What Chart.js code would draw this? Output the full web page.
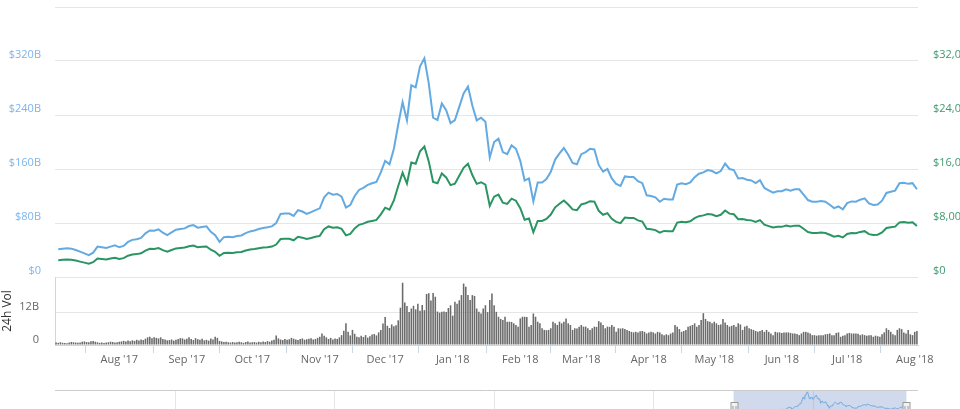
<!DOCTYPE html>
<html>
<head>
<meta charset="utf-8">
<script src="https://cdn.jsdelivr.net/npm/chart.js@4.4.1/dist/chart.umd.min.js"></script>
<style>
html, body { margin: 0; padding: 0; background: #fff; overflow: hidden; width: 960px; height: 409px; }
canvas { position: absolute; left: 0; }
#main { top: 0; }
#vol { top: 277px; }
#nav { top: 388px; }
</style>
</head>
<body>
<canvas id="main" width="960" height="280"></canvas>
<canvas id="vol" width="960" height="95"></canvas>
<canvas id="nav" width="960" height="40"></canvas>
<script>
var DAY = 86400000;
var origin = Date.UTC(2017, 6, 1);
function dayOf(y, m, d) { return Math.round((Date.UTC(y, m, d) - origin) / DAY); }

// market cap (USD bn), one point every 2nd day from 4 Jul 2017
var capStart = dayOf(2017, 6, 4);
var marketCap = [
  41, 42, 42.5, 42, 40, 37.5, 35, 32.5, 36, 45, 44, 43, 45, 47,
  44, 46, 52, 55, 56, 58, 64.7, 69, 68.6, 70.6, 65.6, 62, 66, 70, 71, 72,
  75.5, 77, 73, 74, 75, 67, 62, 52, 59, 59.5, 59, 60.7, 61.5, 65, 67.5,
  69, 71, 72.5, 73.6, 75, 80, 93.5, 94, 94, 90.5, 99, 97, 93.5, 96, 99,
  101.7, 118, 125, 122, 123, 119, 103, 106.6, 120, 129, 132, 136.5, 138.8, 141, 155,
  172, 167, 190, 226, 259, 232, 284, 281, 312, 324, 287, 236, 232.5, 257, 247, 228,
  232.5, 252, 272, 282, 254, 232, 236, 230, 177, 200, 205, 185, 182, 195, 190,
  172, 143, 146, 112, 140, 140, 145, 156, 174, 183, 191, 181, 169, 167,
  182, 185, 190, 189, 166, 156, 160, 146, 138, 135, 149, 148, 148, 142, 139, 121,
  120, 118, 111.5, 116, 115, 115, 137, 139, 137.5, 140, 148, 153, 155, 158.5, 157,
  153.6, 157, 168, 160, 158.5, 146, 146.5, 144, 143, 139, 143.5, 132, 128.5, 125, 127,
  127, 130, 128, 130, 130, 122, 114, 111.5, 111.5, 112.5, 111.5, 107, 102, 104.5, 100.2,
  109.5, 112, 111.5, 114.5, 116.5, 109, 106.8, 107.5, 113, 124.5, 126.3, 128, 138.8, 139.5, 138, 139,
  130
];

// price (USD), same days
var priceUsd = [
  2490, 2550, 2580, 2550, 2430, 2280, 2130, 1980, 2190, 2740, 2680, 2610, 2740, 2860,
  2670, 2790, 3150, 3330, 3390, 3510, 3920, 4180, 4160, 4280, 3980, 3760, 4000, 4240, 4300, 4360,
  4560, 4650, 4410, 4470, 4530, 4040, 3740, 3140, 3560, 3590, 3560, 3660, 3710, 3920, 4070,
  4150, 4270, 4360, 4420, 4510, 4810, 5620, 5650, 5650, 5440, 5950, 5830, 5620, 5770, 5950,
  6090, 7070, 7490, 7310, 7370, 7130, 6170, 6390, 7190, 7730, 7910, 8180, 8310, 8450, 9280,
  10270, 9970, 11340, 13490, 15460, 13850, 16950, 16780, 18630, 19340, 17130, 14090, 13880, 15340, 14750, 13610,
  13830, 14990, 16180, 16780, 15110, 13800, 14040, 13690, 10530, 11900, 12200, 11010, 10830, 11600, 11310,
  10200, 8480, 8660, 6640, 8300, 8300, 8600, 9250, 10320, 10850, 11330, 10730, 10020, 9900,
  10760, 10930, 11230, 11170, 9810, 9220, 9460, 8630, 8160, 7980, 8810, 8750, 8750, 8390, 8210, 7150,
  7070, 6950, 6570, 6830, 6770, 6770, 8070, 8190, 8100, 8250, 8720, 9010, 9130, 9340, 9250,
  9020, 9220, 9860, 9390, 9300, 8570, 8600, 8450, 8390, 8160, 8420, 7750, 7540, 7340, 7450,
  7430, 7610, 7490, 7610, 7610, 7140, 6670, 6520, 6520, 6580, 6520, 6260, 5970, 6110, 5860,
  6380, 6530, 6500, 6680, 6790, 6350, 6230, 6270, 6590, 7260, 7360, 7460, 8090, 8130, 8050, 8100,
  7570
];

// 24h volume (USD bn), daily from 3 Jul 2017
var volStart = dayOf(2017, 6, 3);
var volume24h = [
  0.9,0.8,1.0,0.8,0.7,0.6,0.9,1.1,1.0,0.9,0.8,0.9,1.2,1.3,1.1,1.0,1.4,1.5,1.2,1.0,0.8,0.9,0.7,0.9,1.0,1.2,1.1,0.9,1.0,
  1.2,1.3,1.5,1.3,1.6,1.4,1.7,1.5,1.9,1.6,2.0,1.8,2.3,2.8,3.0,2.5,2.8,2.6,2.4,2.8,2.2,2.0,1.7,1.8,2.0,1.6,1.9,2.2,2.5,2.4,2.0,
  2.3,2.8,2.2,1.8,2.5,2.1,1.9,2.3,1.7,1.9,1.6,2.4,2.0,3.0,2.6,1.5,1.3,1.1,1.2,1.0,0.9,1.1,0.9,1.0,1.2,1.0,0.8,1.1,1.3,0.9,
  1.0,1.1,0.9,1.2,1.0,1.3,1.1,1.4,1.2,1.6,1.9,3.5,2.4,2.0,1.8,2.2,1.9,2.1,2.6,2.3,2.0,1.8,2.2,2.4,1.9,2.1,2.3,2.5,2.0,2.2,2.6,
  3.0,4.2,3.4,2.8,2.2,2.6,2.0,2.4,2.2,2.8,3.6,5.2,7.9,4.8,3.5,5.5,4.1,3.0,2.8,3.4,2.9,3.6,2.7,3.2,3.8,4.0,3.5,4.6,5.5,7.8,
  10.2,7.0,6.2,7.5,6.8,7.2,9.0,13.6,22.7,15.5,14.2,12.0,13.3,14.3,13.0,15.0,12.5,14.6,12.7,18.6,18.9,16.2,19.0,17.6,12.2,11.8,12.1,12.2,12.0,13.5,14.5,
  10.7,15.8,15.0,16.3,18.2,22.4,21.2,18.2,16.4,18.2,17.9,13.3,12.1,11.5,13.3,14.5,12.0,16.4,18.8,14.5,12.1,10.3,9.5,9.1,10.3,8.5,8.5,8.4,7.9,7.3,6.7,
  9.7,10.3,10.3,10.2,6.7,7.3,11.5,10.3,8.5,7.9,6.1,5.5,5.4,5.5,6.1,8.5,7.9,7.3,8.5,7.9,8.5,9.7,7.9,7.3,5.5,6.1,6.0,6.7,
  7.3,6.7,6.7,6.1,5.5,6.1,6.7,6.6,8.7,8.2,7.3,6.1,6.7,6.6,7.3,6.7,4.8,6.1,6.0,6.1,5.8,5.5,5.1,4.8,4.6,4.8,4.6,5.0,5.1,4.8,4.2,
  4.6,4.8,4.6,4.2,4.8,4.6,3.9,3.6,3.9,3.6,4.2,4.6,7.3,6.7,5.8,4.8,5.1,5.5,6.7,7.0,7.3,7.9,6.7,7.3,9.1,11.6,9.5,8.7,8.5,7.9,
  8.5,7.9,7.3,7.5,9.5,8.2,7.3,6.7,7.0,7.3,6.7,7.9,7.5,5.5,6.7,7.0,6.1,5.8,5.5,5.1,4.8,5.1,5.5,4.8,5.5,4.8,4.2,3.6,4.8,4.6,4.6,
  4.4,4.6,4.6,4.6,4.4,4.2,4.2,4.0,3.6,4.2,4.8,4.8,4.6,4.2,3.6,3.6,3.4,3.6,3.6,3.6,3.9,4.0,4.2,3.6,3.6,4.4,4.6,3.0,3.4,3.6,
  4.2,4.4,4.2,4.2,4.2,4.1,3.6,3.9,3.6,3.4,3.6,3.6,3.0,3.4,3.2,3.0,3.9,4.6,6.1,5.5,4.8,3.9,3.6,5.5,6.1,5.8,4.6,4.2,5.5,3.9,3.6,
  4.8,5.1
];

// navigator: older market cap history (USD bn), monthly from May 2013
var navHistory = [
  1.3, 1.3, 0.8, 1.2, 1.6, 1.6, 2.5, 11.9,
  9.2, 10.3, 7.2, 5.5, 5.7, 8.1, 8.1, 7.8, 6.3, 5.3, 4.4, 5.1,
  4.3, 3.1, 3.5, 3.5, 3.2, 3.2, 3.8, 4.2, 3.4, 3.5, 4.6, 5.4,
  6.5, 5.7, 6.6, 6.5, 7.0, 8.5, 10.5, 9.4, 9.0, 9.8, 11.5, 11.8,
  15.5, 15.5, 19.4, 17.3, 22.8, 38.0
];

var monthLabels = ["Aug '17", "Sep '17", "Oct '17", "Nov '17", "Dec '17", "Jan '18", "Feb '18",
                   "Mar '18", "Apr '18", "May '18", "Jun '18", "Jul '18", "Aug '18"];
var monthTicks = monthLabels.map(function (l, i) { return dayOf(2017, 7 + i, 1); });
var yearTicks = [2014, 2015, 2016, 2017, 2018].map(function (y) { return dayOf(y, 0, 1); });

var xMin = volStart - 0.5;
var xMax = volStart + volume24h.length - 0.5;
var navMin = dayOf(2013, 2, 31);
var navMax = dayOf(2018, 7, 29);

var capPts = marketCap.map(function (v, i) { return { x: capStart + 2 * i, y: v }; });
var pricePts = priceUsd.map(function (v, i) { return { x: capStart + 2 * i, y: v }; });
var volPts = volume24h.map(function (v, i) { return { x: volStart + i, y: v }; });
var navPts = navHistory.map(function (v, i) { return { x: dayOf(2013, 4 + i, 1), y: v }; }).concat(capPts);

Chart.defaults.font.family = "'Open Sans', sans-serif";
Chart.defaults.font.size = 11;
Chart.defaults.animation = false;
Chart.defaults.plugins.legend.display = false;
Chart.defaults.plugins.tooltip.enabled = false;

// fixed axis width, and no extra vertical room for the end labels
function fixWidth(w) {
  return function (s) { s.width = w; s.paddingTop = 0; s.paddingBottom = 0; };
}

new Chart(document.getElementById("main"), {
  type: "line",
  data: {
    datasets: [{
      data: capPts,
      yAxisID: "y",
      borderColor: "#64aae2",
      borderWidth: 2,
      pointRadius: 0,
      tension: 0
    }, {
      data: pricePts,
      yAxisID: "y1",
      borderColor: "#2a9463",
      borderWidth: 2,
      pointRadius: 0,
      tension: 0
    }]
  },
  options: {
    responsive: false,
    layout: { padding: { top: 7, bottom: 3 } },
    scales: {
      x: { type: "linear", display: false, min: xMin, max: xMax },
      y: {
        position: "left", min: 0, max: 400,
        afterFit: fixWidth(55),
        ticks: {
          stepSize: 80, padding: 14, labelOffset: -6, color: "#7cb5ec",
          callback: function (v) { return v === 400 ? "" : v === 0 ? "$0" : "$" + v + "B"; }
        },
        grid: { color: "#e6e6e6", drawTicks: false },
        border: { display: false }
      },
      y1: {
        position: "right", min: 0, max: 40000,
        afterFit: fixWidth(42),
        ticks: {
          stepSize: 8000, padding: 15, labelOffset: -6, color: "#3f9a70",
          callback: function (v) { return v === 40000 ? "" : "$" + v.toLocaleString("en-US"); }
        },
        grid: { drawOnChartArea: false, drawTicks: false },
        border: { display: false }
      }
    }
  }
});

new Chart(document.getElementById("vol"), {
  type: "bar",
  data: {
    datasets: [{
      data: volPts,
      backgroundColor: "#6b6b6b",
      barPercentage: 0.72,
      categoryPercentage: 1
    }]
  },
  options: {
    responsive: false,
    layout: { padding: { right: 42 } },
    scales: {
      x: {
        type: "linear", min: xMin, max: xMax, offset: false,
        afterBuildTicks: function (s) { s.ticks = monthTicks.map(function (v) { return { value: v }; }); },
        afterFit: function (s) { s.height = 27; },
        ticks: {
          autoSkip: false, maxRotation: 0, padding: 0, color: "#666",
          callback: function (v, i) { return monthLabels[i]; }
        },
        grid: { drawOnChartArea: false, drawTicks: true, tickLength: 8, color: "#ccd6eb" },
        border: { color: "#ccd6eb" }
      },
      y: {
        min: 0, max: 24.8,
        afterBuildTicks: function (s) { s.ticks = [{ value: 0 }, { value: 12 }]; },
        afterFit: fixWidth(55),
        ticks: {
          padding: 16, labelOffset: -5, color: "#666",
          callback: function (v) { return v === 0 ? "0" : v + "B"; }
        },
        grid: { color: "#e6e6e6", drawTicks: false },
        border: { display: true, color: "#ccd6eb" },
        title: { display: true, text: "24h Vol", color: "#333", font: { size: 12 }, padding: 0 }
      }
    }
  }
});

var navigatorDecor = {
  id: "navigatorDecor",
  beforeDatasetsDraw: function (chart) {
    var ctx = chart.ctx, a = chart.chartArea, xs = chart.scales.x;
    var x0 = xs.getPixelForValue(xMin), x1 = xs.getPixelForValue(xMax);
    ctx.save();
    ctx.fillStyle = "rgba(102,133,194,0.3)";
    ctx.fillRect(x0, a.top, x1 - x0, a.bottom - a.top + 20);
    ctx.restore();
  },
  afterDraw: function (chart) {
    var ctx = chart.ctx, a = chart.chartArea, xs = chart.scales.x;
    ctx.save();
    ctx.strokeStyle = "#cccccc";
    ctx.lineWidth = 1;
    ctx.beginPath();
    ctx.moveTo(a.left, 2.5);
    ctx.lineTo(a.right, 2.5);
    ctx.stroke();
    [xMin, xMax].forEach(function (v) {
      var x = Math.round(xs.getPixelForValue(v)) + 0.5;
      ctx.fillStyle = "#f2f2f2";
      ctx.strokeStyle = "#999999";
      ctx.fillRect(x - 3.5, 14.5, 7, 15);
      ctx.strokeRect(x - 3.5, 14.5, 7, 15);
      ctx.beginPath();
      ctx.moveTo(x - 1.5, 18); ctx.lineTo(x - 1.5, 26);
      ctx.moveTo(x + 1.5, 18); ctx.lineTo(x + 1.5, 26);
      ctx.stroke();
    });
    ctx.restore();
  }
};

new Chart(document.getElementById("nav"), {
  type: "line",
  data: {
    datasets: [{
      data: navPts,
      borderColor: "#6fa8dc",
      borderWidth: 1,
      pointRadius: 0,
      tension: 0,
      fill: "origin",
      backgroundColor: "rgba(124,181,236,0.05)"
    }]
  },
  options: {
    responsive: false,
    layout: { padding: { left: 55, right: 42, top: 3, bottom: 11 } },
    scales: {
      x: {
        type: "linear", min: navMin, max: navMax,
        afterBuildTicks: function (s) { s.ticks = yearTicks.map(function (v) { return { value: v }; }); },
        afterFit: function (s) { s.height = 0; },
        ticks: { display: false },
        grid: { color: "#e6e6e6", drawTicks: false },
        border: { display: false }
      },
      y: { display: false, min: 0, max: 335 }
    }
  },
  plugins: [navigatorDecor]
});
</script>
</body>
</html>
